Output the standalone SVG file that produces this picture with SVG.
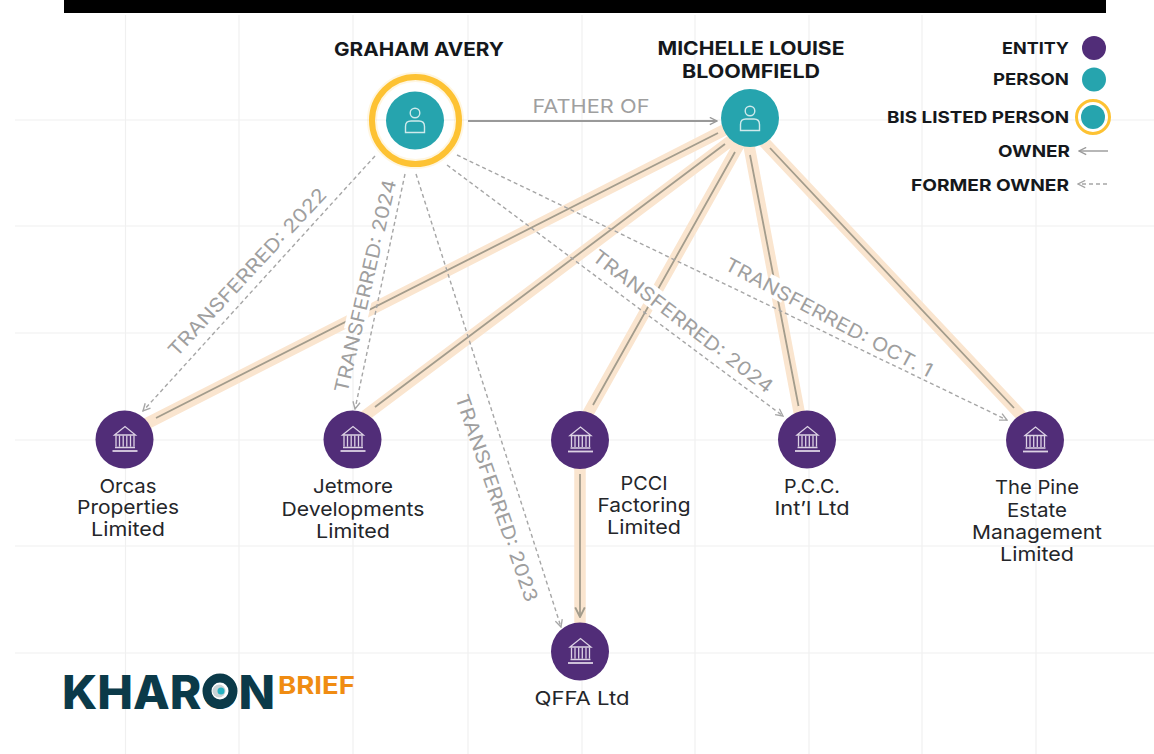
<svg xmlns="http://www.w3.org/2000/svg" xmlns:xlink="http://www.w3.org/1999/xlink" width="1154" height="754" viewBox="0 0 1154 754">
<style>
text{font-family:Inter,"Liberation Sans",sans-serif}
.grid line{stroke:#f0f0f0;stroke-width:1.2}
.h{font-weight:700;font-size:19px;fill:#15181c;text-anchor:middle}
.lg{font-weight:700;font-size:16.5px;fill:#15181c;text-anchor:end}
.n{font-size:19px;fill:#24262a;text-anchor:middle}
.t{font-size:19px;fill:#9f9f9f;text-anchor:middle}
.band{stroke:#fae5cf;stroke-width:11.500;fill:none}
.own{stroke:#a39c8c;stroke-width:1.800;fill:none;marker-end:url(#ah)}
.form{stroke:#a6a6a6;stroke-width:1.400;stroke-dasharray:4 3;fill:none;marker-end:url(#ad)}
.person{fill:#26a4ae}
.entity{fill:#512d78}
.ring{fill:none;stroke:#fdc233;stroke-width:6}
</style>
<defs>
<marker id="ah" viewBox="0 0 10 10" refX="9" refY="5" markerWidth="12" markerHeight="12" markerUnits="userSpaceOnUse" orient="auto"><path d="M1 1L9 5L1 9" fill="none" stroke="#a39c8c" stroke-width="1.600"/></marker>
<marker id="ag" viewBox="0 0 10 10" refX="9" refY="5" markerWidth="9" markerHeight="9" markerUnits="userSpaceOnUse" orient="auto"><path d="M1 1L9 5L1 9" fill="none" stroke="#999" stroke-width="1.500"/></marker>
<marker id="ad" viewBox="0 0 10 10" refX="9" refY="5" markerWidth="9" markerHeight="9" markerUnits="userSpaceOnUse" orient="auto"><path d="M1 1L9 5L1 9" fill="none" stroke="#a6a6a6" stroke-width="1.500"/></marker>
<symbol id="p" viewBox="-12 -14 24 28" width="24" height="28" overflow="visible"><g fill="none" stroke="#cfeaec" stroke-width="1.400"><circle cx="0" cy="-7" r="4.800"/><path d="M-9.500 12.500V6.500Q-9.500 1 -4 1H4Q9.500 1 9.500 6.500V12.500Z"/></g></symbol>
<symbol id="b" viewBox="-14 -14 28 28" width="28" height="28" overflow="visible"><g fill="none" stroke="#dcd2e4" stroke-width="1.300"><path d="M-10.500 -4L0 -12.500L10.500 -4Z"/><path d="M-9 -3.500V7.500M-5.500 -3.500V7.500M-1.800 -3.500V7.500M1.800 -3.500V7.500M5.500 -3.500V7.500M9 -3.500V7.500M-10 8.500H10"/><path d="M-12.500 12H12.500" stroke-width="1.800"/></g></symbol>
</defs>
<rect width="1154" height="754" fill="#fff"/>
<g class="grid">
<line x1="125.500" y1="15" x2="125.500" y2="754"/><line x1="239" y1="15" x2="239" y2="754"/><line x1="353" y1="15" x2="353" y2="754"/><line x1="468" y1="15" x2="468" y2="754"/><line x1="582" y1="15" x2="582" y2="754"/><line x1="695" y1="15" x2="695" y2="754"/><line x1="809" y1="15" x2="809" y2="754"/><line x1="922" y1="15" x2="922" y2="754"/><line x1="1036" y1="15" x2="1036" y2="754"/>
<line x1="15" y1="120" x2="1154" y2="120"/><line x1="15" y1="226" x2="1154" y2="226"/><line x1="15" y1="333" x2="1154" y2="333"/><line x1="15" y1="440" x2="1154" y2="440"/><line x1="15" y1="546" x2="1154" y2="546"/><line x1="15" y1="653" x2="1154" y2="653"/>
</g>
<rect x="64" y="0" width="1042" height="13" fill="#000"/>
<g id="connectors">
<path class="band" d="M738 123L140 427M745 130L362 418M745 134L586 417M747 135L801 422M750 127L1030 425M580 460V630"/>
<path class="own" d="M718 133L156 418M725 144L375 407M735 152L593 405M750 155L798.500 406M770 148L1014 408M580 474V617"/>
<path class="form" d="M375 156L143 411"/>
<path class="form" d="M405 174L355 409"/>
<path class="form" d="M416 174L561 627"/>
<path class="form" d="M447 165L783 416"/>
<path class="form" d="M457 155L1007 420"/>
<path d="M468 121H717" fill="none" stroke="#999" stroke-width="1.800" marker-end="url(#ag)"/>
<rect x="-46" y="-11" width="36" height="21" fill="#fff" transform="translate(365 286) rotate(-77)"/>
<rect x="-50" y="-11" width="22" height="21" fill="#fff" transform="translate(683 321) rotate(37.500)"/>
<rect x="-71" y="-11" width="22" height="21" fill="#fff" transform="translate(829 317) rotate(28)"/>
<text class="t" x="591" y="113" textLength="117" lengthAdjust="spacingAndGlyphs">FATHER OF</text>
<text class="t" transform="translate(247 272) rotate(-47)" y="7" textLength="222" lengthAdjust="spacingAndGlyphs">TRANSFERRED: 2022</text>
<text class="t" transform="translate(365 286) rotate(-77)" y="7" textLength="218" lengthAdjust="spacingAndGlyphs">TRANSFERRED: 2024</text>
<text class="t" transform="translate(497 498) rotate(71)" y="7" textLength="218" lengthAdjust="spacingAndGlyphs">TRANSFERRED: 2023</text>
<text class="t" transform="translate(683 321) rotate(37.500)" y="7" textLength="222" lengthAdjust="spacingAndGlyphs">TRANSFERRED: 2024</text>
<text class="t" transform="translate(829 317) rotate(28)" y="7" textLength="232" lengthAdjust="spacingAndGlyphs">TRANSFERRED: OCT. 1</text>
</g>
<g id="graham-avery">
<circle cx="415.500" cy="120.500" r="43.500" fill="none" stroke="#fdc233" stroke-width="10" opacity=".15"/>
<circle class="ring" cx="415.500" cy="120.500" r="43.500"/><circle class="person" cx="415" cy="120.500" r="29"/><use xlink:href="#p" href="#p" x="403" y="106"/>
<text class="h" x="419" y="56" textLength="170" lengthAdjust="spacingAndGlyphs">GRAHAM AVERY</text>
</g>
<g id="michelle-bloomfield">
<circle class="person" cx="750" cy="118" r="29"/><use xlink:href="#p" href="#p" x="738" y="104"/>
<text class="h" x="751" y="55" textLength="187" lengthAdjust="spacingAndGlyphs">MICHELLE LOUISE</text>
<text class="h" x="751" y="78" textLength="138" lengthAdjust="spacingAndGlyphs">BLOOMFIELD</text>
</g>
<g id="orcas"><circle class="entity" cx="124.500" cy="439.500" r="29"/><use xlink:href="#b" href="#b" x="111" y="425"/>
<text class="n" x="128" y="493" textLength="57" lengthAdjust="spacingAndGlyphs">Orcas</text><text class="n" x="128" y="514" textLength="102" lengthAdjust="spacingAndGlyphs">Properties</text><text class="n" x="128" y="536" textLength="74" lengthAdjust="spacingAndGlyphs">Limited</text></g>
<g id="jetmore"><circle class="entity" cx="352.500" cy="439.500" r="29"/><use xlink:href="#b" href="#b" x="339" y="425"/>
<text class="n" x="353" y="493" textLength="80" lengthAdjust="spacingAndGlyphs">Jetmore</text><text class="n" x="353" y="516" textLength="143" lengthAdjust="spacingAndGlyphs">Developments</text><text class="n" x="353" y="538" textLength="74" lengthAdjust="spacingAndGlyphs">Limited</text></g>
<g id="pcci"><circle class="entity" cx="580" cy="440" r="29"/><use xlink:href="#b" href="#b" x="566.500" y="425.500"/>
<text class="n" x="644" y="490" textLength="47" lengthAdjust="spacingAndGlyphs">PCCI</text><text class="n" x="644" y="512" textLength="93" lengthAdjust="spacingAndGlyphs">Factoring</text><text class="n" x="644" y="534" textLength="74" lengthAdjust="spacingAndGlyphs">Limited</text></g>
<g id="pcc"><circle class="entity" cx="807" cy="439.500" r="29"/><use xlink:href="#b" href="#b" x="793.500" y="425"/>
<text class="n" x="812" y="493" textLength="56" lengthAdjust="spacingAndGlyphs">P.C.C.</text><text class="n" x="812" y="515" textLength="75" lengthAdjust="spacingAndGlyphs">Int’l Ltd</text></g>
<g id="pine"><circle class="entity" cx="1035" cy="440" r="29"/><use xlink:href="#b" href="#b" x="1021.500" y="425.500"/>
<text class="n" x="1037" y="494" textLength="84" lengthAdjust="spacingAndGlyphs">The Pine</text><text class="n" x="1037" y="517" textLength="60" lengthAdjust="spacingAndGlyphs">Estate</text><text class="n" x="1037" y="539" textLength="130" lengthAdjust="spacingAndGlyphs">Management</text><text class="n" x="1037" y="561" textLength="74" lengthAdjust="spacingAndGlyphs">Limited</text></g>
<g id="qffa"><circle class="entity" cx="580" cy="651.500" r="29"/><use xlink:href="#b" href="#b" x="566.500" y="637"/>
<text class="n" x="582" y="705" textLength="95" lengthAdjust="spacingAndGlyphs">QFFA Ltd</text></g>
<g id="legend">
<text class="lg" x="1069" y="54" textLength="67" lengthAdjust="spacingAndGlyphs">ENTITY</text><circle class="entity" cx="1094" cy="48" r="12"/>
<text class="lg" x="1069" y="85" textLength="76" lengthAdjust="spacingAndGlyphs">PERSON</text><circle class="person" cx="1094" cy="79.500" r="12"/>
<text class="lg" x="1069" y="123" textLength="182" lengthAdjust="spacingAndGlyphs">BIS LISTED PERSON</text><circle class="person" cx="1093" cy="117" r="12"/><circle cx="1093" cy="117" r="16.500" fill="none" stroke="#fdc233" stroke-width="3"/>
<text class="lg" x="1070" y="157" textLength="72" lengthAdjust="spacingAndGlyphs">OWNER</text><path d="M1108 151H1079" stroke="#a6a6a6" stroke-width="1.600" fill="none" marker-end="url(#ag)"/>
<text class="lg" x="1069" y="191" textLength="158" lengthAdjust="spacingAndGlyphs">FORMER OWNER</text><path d="M1107 184H1078" stroke="#a6a6a6" stroke-width="1.400" stroke-dasharray="4 3" fill="none" marker-end="url(#ad)"/>
</g>
<g id="logo">
<text x="62" y="709" font-size="46" fill="#0b3a49" style="font-weight:800" textLength="213" lengthAdjust="spacingAndGlyphs">KHARON</text>
<circle cx="220" cy="691" r="13" fill="#fff" stroke="#0b3a49" stroke-width="9"/>
<circle cx="219" cy="691" r="6.500" fill="#c9d3d5"/><circle cx="221" cy="691" r="3.500" fill="#27b3c2"/>
<text x="278" y="694" font-size="24" fill="#f08c12" style="font-weight:700" textLength="77" lengthAdjust="spacingAndGlyphs">BRIEF</text>
</g>
</svg>
